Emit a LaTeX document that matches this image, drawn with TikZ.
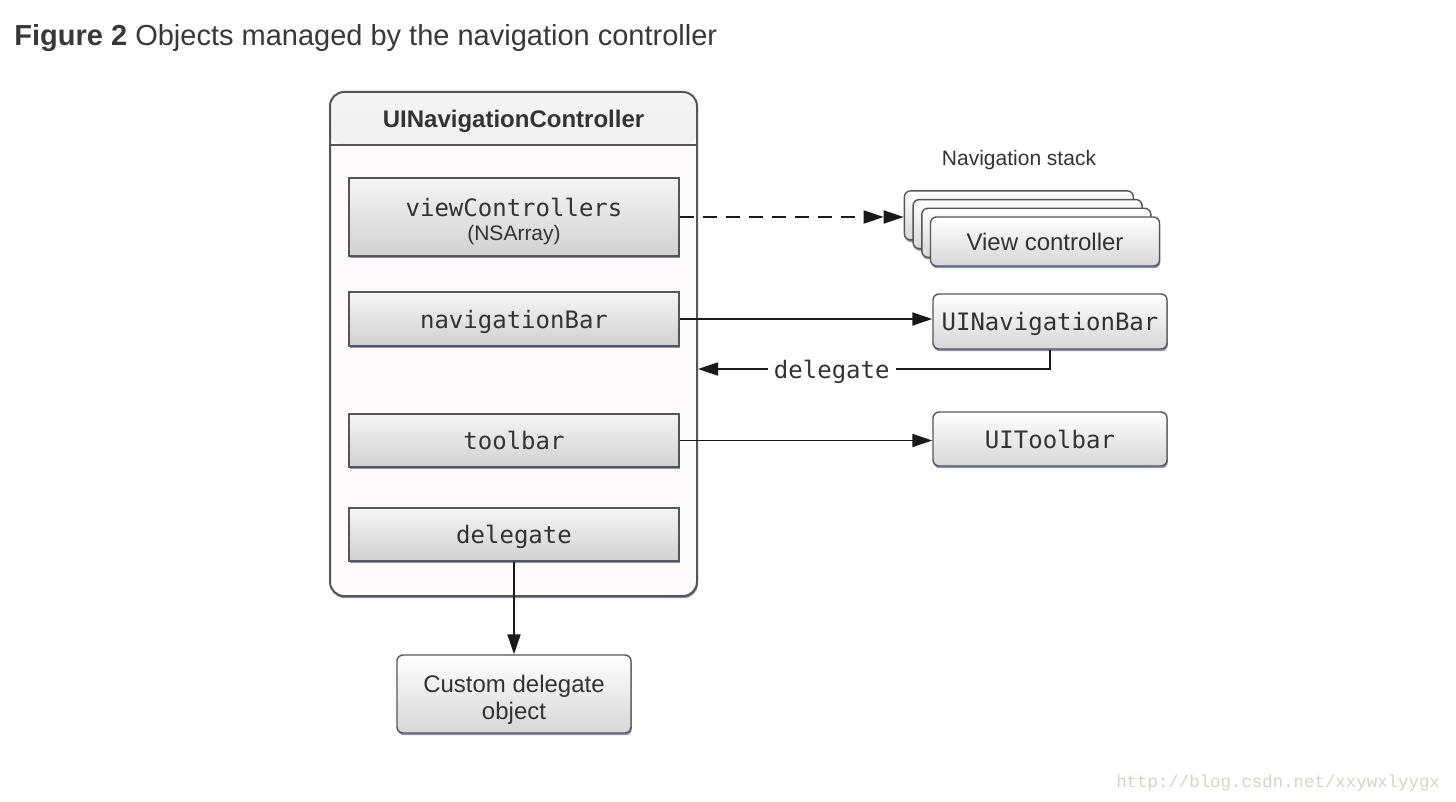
\documentclass[tikz,border=0pt]{standalone}
\usepackage{fontspec}
\setmainfont{Liberation Sans}
\setmonofont{DejaVu Sans Mono}
\newfontfamily\wmfont{Liberation Mono}
\usetikzlibrary{arrows.meta,positioning,calc}

\definecolor{txt}{HTML}{333333}
\definecolor{edge}{HTML}{555555}
\definecolor{shdw}{HTML}{9090B4}
\definecolor{pane}{HTML}{FDFAFC}
\definecolor{wm}{HTML}{D6D2CA}

\tikzset{
  obj/.style={draw=edge, line width=0.7pt, rounded corners=3pt, top color=white, bottom color=black!16,
    text=txt, align=center, inner sep=0pt,
    preaction={fill=shdw, transform canvas={shift={(0.4pt,-1.1pt)}}}},
  slot/.style={obj, rounded corners=0pt, top color=black!4, bottom color=black!18, minimum width=165pt},
  code/.style={font=\ttfamily\fontsize{12}{14}\selectfont, text height=9.2pt, text depth=0pt},
  plain/.style={font=\fontsize{12}{14}\selectfont},
  arr/.style={line width=0.9pt, draw=black!90, -{Triangle[length=10pt,width=6.5pt]}},
}

\begin{document}
\begin{tikzpicture}[x=0.5pt,y=-0.5pt]
\useasboundingbox (0,0) rectangle (1456,802);

\node[anchor=base west, inner sep=0pt, font=\fontsize{14.5}{17}\selectfont, text=black!78] (title) at (14,46)
  {\textbf{Figure 2} Objects managed by the navigation controller};

%% the controller with its header
\node[draw=edge, line width=1pt, fill=pane, rounded corners=7pt, minimum width=183.5pt, minimum height=252pt,
  path picture={\shade[top color=black!4, bottom color=black!17]
    (path picture bounding box.north west) rectangle ([yshift=-26.5pt]path picture bounding box.north east);
    \draw[edge, line width=0.8pt] ([yshift=-26.5pt]path picture bounding box.north west) -- ([yshift=-26.5pt]path picture bounding box.north east);},
  preaction={fill=shdw, transform canvas={shift={(0.4pt,-1.1pt)}}}] (ctrl) at (513.5,344) {};
\node[font=\bfseries\fontsize{12}{14}\selectfont, text=txt] (hdr) at (513.5,121) {UINavigationController};

\node[slot, minimum height=39pt, label={[align=center, text=txt, yshift=-2.2pt]center:{{\ttfamily\fontsize{12}{14}\selectfont viewControllers}\\[0pt]{\fontsize{10.5}{12}\selectfont (NSArray)}}}] (vcs) at (514,217) {};
\node[slot, code, minimum height=27pt] (nbar) at (514,319) {navigationBar};
\node[slot, code, minimum height=26.5pt] (tbar) at (514,440.5) {toolbar};
\node[slot, code, minimum height=26.5pt] (dlg) at (514,534.5) {delegate};

%% navigation stack
\node[font=\fontsize{10.5}{12}\selectfont, text=txt] (stacklbl) at (1019,160) {Navigation stack};
\foreach \i in {3,2,1}{
  \node[obj, minimum width=114.5pt, minimum height=24.5pt] (card\i) at (1045-8.7*\i,241.5-8.7*\i) {};
}
\node[obj, plain, minimum width=114.5pt, minimum height=24.5pt] (vc) at (1045,241.5) {View controller};

\node[obj, code, minimum width=117pt, minimum height=27.5pt] (uinb) at (1050,321.5) {UINavigationBar};
\node[obj, code, minimum width=117pt, minimum height=27pt] (uitb) at (1050,439) {UIToolbar};
\node[obj, minimum width=117pt, minimum height=39pt,
  label={[align=center, text=txt, font=\fontsize{12}{14}\selectfont, yshift=-2.7pt]center:{Custom delegate\\[-0.5pt]object}}] (cdo) at (514,694) {};

%% connectors
\draw[arr, dash pattern=on 7pt off 4.5pt, -{Triangle[length=10pt,width=6.5pt]Triangle[length=10pt,width=6.5pt]}]
  (vcs.east) -- (vcs.east -| card3.west);
\draw[arr] (nbar.east) -- (nbar.east -| uinb.west);
\draw[arr] (tbar.east) -- (tbar.east -| uitb.west);
\coordinate (back) at (0,369);
\draw[arr] (uinb.south) |- (back -| ctrl.east)
  node[pos=0.81, fill=white, inner sep=3pt, code, text=txt] (dlbl) {delegate};
\draw[arr] (dlg.south) -- (cdo.north);

\node[anchor=base east, font=\wmfont\fontsize{8.7}{10}\selectfont, text=wm] (mark) at (1447,787)
  {http://blog.csdn.net/xxywxlyygx};
\end{tikzpicture}
\end{document}
